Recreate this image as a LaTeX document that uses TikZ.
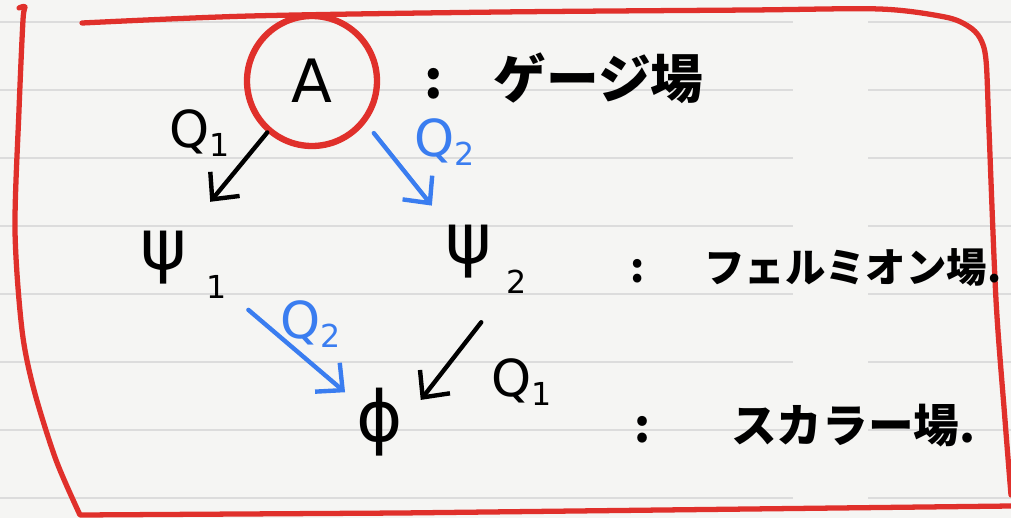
\documentclass[tikz,border=0pt]{standalone}
\usepackage{fontspec}
\setmainfont{DejaVu Sans}
\newfontfamily\jpfont{Noto Sans CJK JP}
\usetikzlibrary{arrows.meta}
\definecolor{nbRed}{HTML}{E0302B}
\definecolor{nbBlue}{HTML}{3A7DF0}
\definecolor{nbPaper}{HTML}{F5F5F3}
\definecolor{nbRule}{HTML}{DCDCDC}
\newcommand\lowsub[2]{\raisebox{#1}{\fontsize{18}{18}\selectfont #2}}
\tikzset{
  field node/.style={inner sep=0pt,font=\fontsize{40}{40}\selectfont},
  gauge node/.style={circle,draw=nbRed,line width=3.6pt,minimum size=2.6cm,inner sep=0pt,
    font=\fontsize{34}{34}\selectfont},
  charge label/.style={inner sep=0pt,font=\fontsize{29}{29}\selectfont},
  field note/.style={inner sep=0pt,anchor=west},
  field arrow/.style={-{Straight Barb[length=4mm,width=7.6mm]},line width=2.5pt,line cap=round},
  frame stroke/.style={draw=nbRed,line width=3pt,line cap=round,line join=round}
}

\begin{document}
\begin{tikzpicture}[x=0.02cm,y=-0.02cm]
\useasboundingbox (0,0) rectangle (1011,518);
% notebook page
\fill[nbPaper] (0,0) rectangle (1011,518);
\foreach \y in {22,90,...,498} {
  \draw[nbRule,line width=0.8pt] (0,\y) -- (793,\y) (868,\y) -- (1011,\y);
}
% hand-drawn frame
\draw[frame stroke] plot[smooth] coordinates {(19,8) (25,7) (23,20) (19,110) (15,230) (22,330) (34,390) (56,460) (80,515)} -- (400,513) -- (1011,506);
\draw[frame stroke] plot[smooth] coordinates {(82,23) (250,16) (500,12) (750,10) (880,9) (945,17) (968,26) (980,38) (986,60) (989,130) (996,300) (1005,420) (1011,495)};
% fields
\node[gauge node] (A) at (312,81) {A};
\node[field node] (psi1) at (164,258) {ψ\rlap{\smash{\kern11pt\lowsub{-16pt}{1}}}};
\node[field node] (psi2) at (469,252) {ψ\rlap{\smash{\kern8pt\lowsub{-17pt}{2}}}};
\node[field node] (phi) at (380,422) {ϕ};
% charges
\node[charge label] (q1up) at (200,133) {Q\lowsub{-5pt}{1}};
\node[charge label,text=nbBlue] (q2up) at (445,142) {Q\lowsub{-5pt}{2}};
\node[charge label,text=nbBlue] (q2down) at (311,324) {Q\lowsub{-5pt}{2}};
\node[charge label] (q1down) at (522,382) {Q\lowsub{-5pt}{1}};
% what each field is
\node[field note,font=\jpfont\bfseries\fontsize{30}{30}\selectfont] (gauge) at (424,78) {:\hspace{29pt}ゲージ場};
\node[field note,font=\jpfont\bfseries\fontsize{23}{23}\selectfont] (fermion) at (630,268) {:\hspace{34pt}フェルミオン場.};
\node[field note,font=\jpfont\bfseries\fontsize{26}{26}\selectfont] (scalar) at (634,426) {:\hspace{46pt}スカラー場.};
% charge arrows
\draw[field arrow,shorten >=7.6mm] (A.229) -- (psi1);
\draw[field arrow,nbBlue,shorten <=2.6mm,shorten >=5mm] (A.322) -- (psi2);
\draw[field arrow,nbBlue,shorten <=16mm,shorten >=3mm] (psi1.east) -- (phi);
\draw[field arrow,shorten <=11mm,shorten >=5.6mm] ([xshift=4.5mm]psi2.south east) -- (phi.east);
\end{tikzpicture}
\end{document}
